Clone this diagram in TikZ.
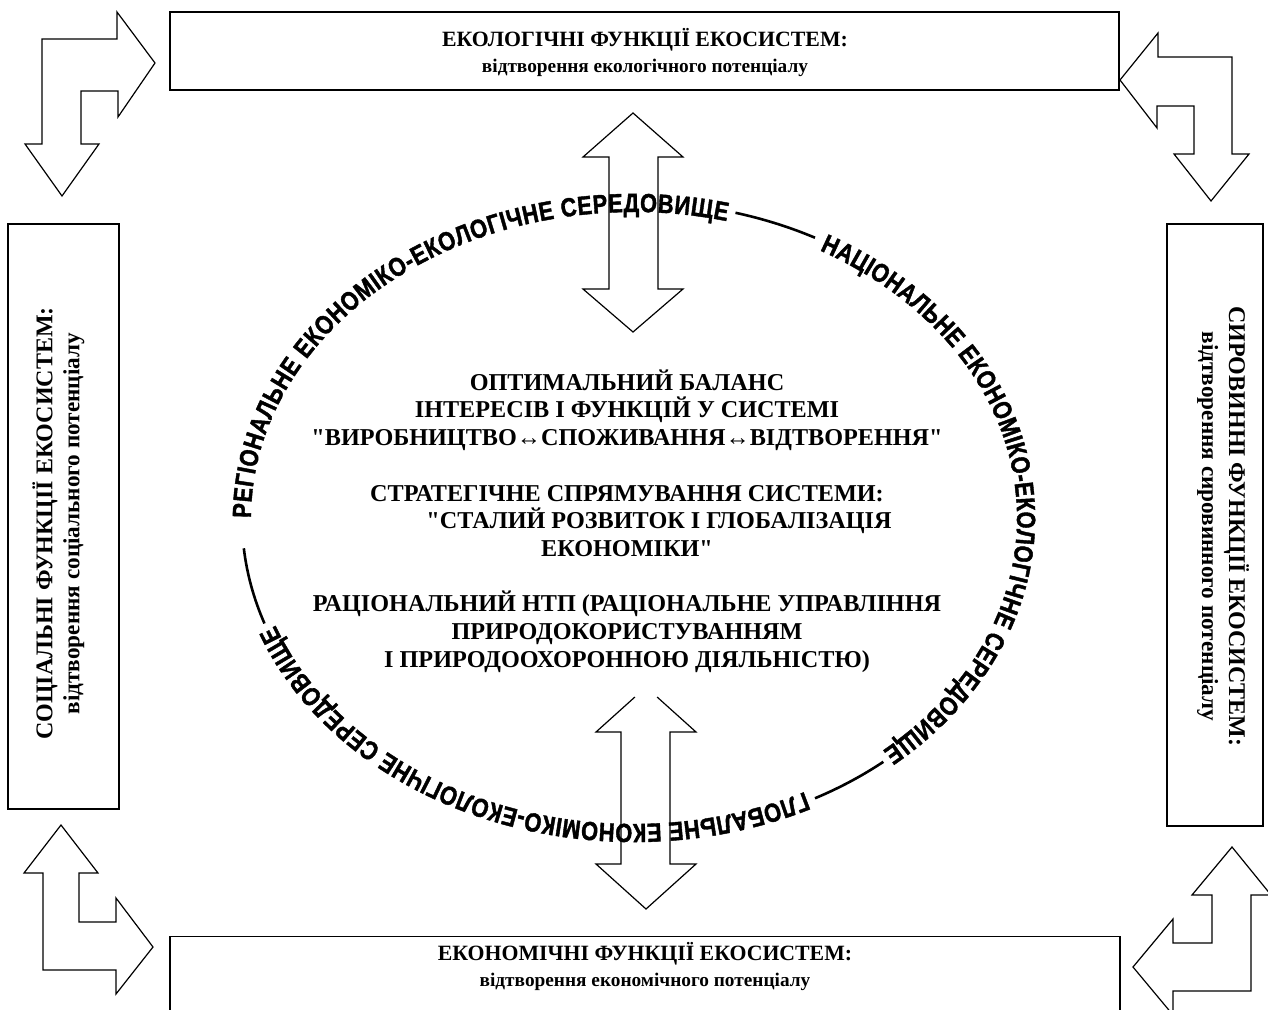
\documentclass[tikz,border=0pt]{standalone}
\usepackage{fontspec}
\setmainfont{Liberation Serif}[Ligatures=TeXOff]
\newfontfamily\ellfont{Liberation Sans Bold}[FakeStretch=0.83, FakeBold=1.5]
\usetikzlibrary{decorations.text}
\newcommand{\ellf}{\ellfont\fontsize{26.3pt}{26.3pt}\selectfont}

\begin{document}
\begin{tikzpicture}[x=1pt,y=1pt,
  box/.style={draw, line width=1.3pt, inner sep=0pt},
  boxtitle/.style={align=center, inner sep=0pt, font=\bfseries\fontsize{21.8pt}{25.5pt}\selectfont},
  sidetitle/.style={align=center, inner sep=0pt, font=\bfseries\fontsize{24pt}{27pt}\selectfont},
  blockarrow/.style={draw, line width=1.2pt, line join=miter},
  envline/.style={line width=2.6pt},
  envtext/.style={decorate, decoration={text along path, text align={fit to path}, text={|\ellf|#1}}},
  coretext/.style={align=center, inner sep=0pt, font=\bfseries\fontsize{24.2pt}{27.7pt}\selectfont}]

\path[fill=white, use as bounding box] (0,0) rectangle (1268,-1009);

% boxes
\node[box, minimum width=949pt, minimum height=78pt] (ecol) at (644.5,-51) {};
\node[boxtitle] (ecoltxt) at (645,-52.5) {ЕКОЛОГІЧНІ ФУНКЦІЇ ЕКОСИСТЕМ:\\{\fontsize{19.3pt}{25.5pt}\selectfont відтворення екологічного потенціалу}};

\node[box, minimum width=111pt, minimum height=585pt] (soc) at (63.5,-516.5) {};
\node[sidetitle, rotate=90] (soctxt) at (58.5,-523.5) {СОЦІАЛЬНІ ФУНКЦІЇ ЕКОСИСТЕМ:\\{\fontsize{23.2pt}{27pt}\selectfont відтворення соціального потенціалу}};

\node[box, minimum width=96pt, minimum height=602pt] (raw) at (1215,-525) {};
\node[sidetitle, rotate=-90] (rawtxt) at (1223,-526.5) {СИРОВИННІ ФУНКЦІЇ ЕКОСИСТЕМ:\\{\fontsize{23.2pt}{27pt}\selectfont відтворення сировинного потенціалу}};

\node[box, minimum width=950pt, minimum height=120pt, anchor=north] (econ) at (645,-936) {};
\node[boxtitle] (econtxt) at (645,-966.5) {ЕКОНОМІЧНІ ФУНКЦІЇ ЕКОСИСТЕМ:\\{\fontsize{19.3pt}{25.5pt}\selectfont відтворення економічного потенціалу}};

% corner block arrows
\draw[blockarrow] (42,-39) -- (117,-39) -- (117,-12) -- (155,-63) -- (118,-117) -- (118,-91) -- (81,-91) -- (81,-144) -- (99,-144) -- (62,-196) -- (25,-144) -- (42,-144) -- cycle;
\draw[blockarrow] (1232,-57) -- (1158,-57) -- (1158,-33) -- (1120,-80) -- (1157,-128) -- (1157,-106) -- (1194,-106) -- (1194,-154) -- (1174,-154) -- (1211,-201) -- (1249,-154) -- (1232,-154) -- cycle;
\draw[blockarrow] (43,-970) -- (43,-873) -- (24,-873) -- (61,-825) -- (98,-873) -- (79,-873) -- (79,-922) -- (116,-922) -- (116,-898) -- (153,-947) -- (116,-994) -- (116,-970) -- cycle;
\draw[blockarrow] (1251,-991) -- (1251,-895) -- (1271,-895) -- (1232,-847) -- (1192,-895) -- (1212,-895) -- (1212,-943) -- (1173,-943) -- (1173,-919) -- (1133,-967) -- (1173,-1015) -- (1173,-991) -- cycle;

% environment ellipse
\coordinate (E) at (634,-518);
\path[envtext={РЕГІОНАЛЬНЕ ЕКОНОМІКО-ЕКОЛОГІЧНЕ СЕРЕДОВИЩЕ}] (E) ++(180:383pt and 306pt) arc[start angle=180, end angle=76, x radius=383pt, y radius=306pt];
\path[envtext={НАЦІОНАЛЬНЕ ЕКОНОМІКО-ЕКОЛОГІЧНЕ СЕРЕДОВИЩЕ}] (E) ++(61:383pt and 306pt) arc[start angle=61, end angle=-49.5, x radius=383pt, y radius=306pt];
\path[envtext={ГЛОБАЛЬНЕ ЕКОНОМІКО-ЕКОЛОГІЧНЕ СЕРЕДОВИЩЕ}] (E) ++(-63.5:383pt and 306pt) arc[start angle=-63.5, end angle=-159.5, x radius=383pt, y radius=306pt];
\draw[envline] (E) ++(75:392pt and 316pt) arc[start angle=75, end angle=62.5, x radius=392pt, y radius=316pt];
\draw[envline] (E) ++(-50.5:392pt and 316pt) arc[start angle=-50.5, end angle=-62.5, x radius=392pt, y radius=316pt];
\draw[envline] (E) ++(-160.5:392pt and 316pt) arc[start angle=-160.5, end angle=-174.5, x radius=392pt, y radius=316pt];

% central text
\node[coretext] (core) at (627,-521) {ОПТИМАЛЬНИЙ БАЛАНС\\ІНТЕРЕСІВ І ФУНКЦІЙ У СИСТЕМІ\\"ВИРОБНИЦТВО↔СПОЖИВАННЯ↔ВІДТВОРЕННЯ"\\[27.7pt]СТРАТЕГІЧНЕ СПРЯМУВАННЯ СИСТЕМИ:\\\hspace*{64pt}"СТАЛИЙ РОЗВИТОК І ГЛОБАЛІЗАЦІЯ\\ЕКОНОМІКИ"\\[27.7pt]РАЦІОНАЛЬНИЙ НТП (РАЦІОНАЛЬНЕ УПРАВЛІННЯ\\ПРИРОДОКОРИСТУВАННЯМ\\І ПРИРОДООХОРОННОЮ ДІЯЛЬНІСТЮ)};

% central double arrows
\draw[blockarrow] (633,-113) -- (683,-157) -- (658,-157) -- (658,-289) -- (683,-289) -- (633,-332) -- (583,-289) -- (609,-289) -- (609,-157) -- (583,-157) -- cycle;
\draw[blockarrow] (634.9,-697) -- (596,-732) -- (621,-732) -- (621,-864) -- (596,-864) -- (646,-909) -- (696,-864) -- (670,-864) -- (670,-732) -- (696,-732) -- (657.1,-697);
\end{tikzpicture}
\end{document}
